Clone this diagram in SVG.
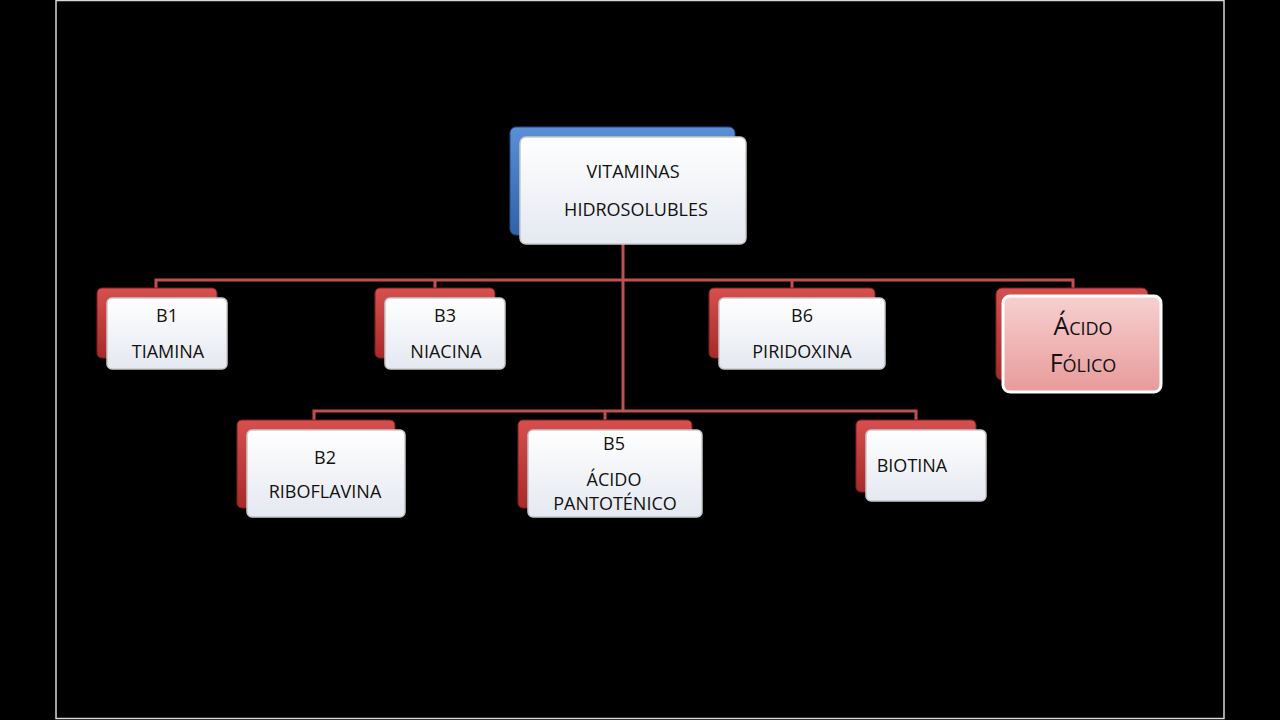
<svg xmlns="http://www.w3.org/2000/svg" width="1280" height="720" viewBox="0 0 1280 720">
<defs>
<linearGradient id="gw" x1="0" y1="0" x2="0" y2="1"><stop offset="0" stop-color="#ffffff"/><stop offset="1" stop-color="#e4e8f0"/></linearGradient>
<linearGradient id="gr" x1="0" y1="0" x2="0" y2="1"><stop offset="0" stop-color="#d74f4f"/><stop offset="1" stop-color="#a82a2a"/></linearGradient>
<linearGradient id="gb" x1="0" y1="0" x2="0" y2="1"><stop offset="0" stop-color="#5b8fd6"/><stop offset="1" stop-color="#2f62a8"/></linearGradient>
<linearGradient id="gp" x1="0" y1="0" x2="0" y2="1"><stop offset="0" stop-color="#f7d0d0"/><stop offset="1" stop-color="#e89a9a"/></linearGradient>
</defs>
<style>
.back{fill:url(#gr);stroke:#7a1e1e;stroke-width:1}
.front{fill:url(#gw);stroke:#c8c8c8;stroke-width:1.5}
.t{font-family:"Open Sans","Liberation Sans",sans-serif;font-size:18px;fill:#111;text-anchor:middle}
.c{fill:none;stroke:#c0504d;stroke-width:3}
</style>
<rect width="1280" height="720" fill="#000"/>
<rect x="56" y="0.5" width="1168" height="718" fill="none" stroke="#d8d8d8" stroke-width="1.5"/>
<g id="connectors">
<path class="c" d="M623 244V411M156 288V280H1073V288M435 280V288M792 280V288M314 420V411H916V420M605 411V420"/>
</g>
<g id="root">
<rect x="510" y="127" width="225" height="108" rx="6" fill="url(#gb)" stroke="#1f4a86"/>
<rect x="520" y="137" width="226" height="107" rx="6" class="front"/>
<text class="t" x="633" y="178">VITAMINAS</text>
<text class="t" x="636" y="216">HIDROSOLUBLES</text>
</g>
<g id="b1">
<rect x="97" y="288" width="120" height="70" rx="5" class="back"/>
<rect x="107" y="298" width="120" height="71" rx="5" class="front"/>
<text class="t" x="167" y="322">B1</text><text class="t" x="168" y="358">TIAMINA</text>
</g>
<g id="b3">
<rect x="375" y="288" width="120" height="70" rx="5" class="back"/>
<rect x="385" y="298" width="120" height="71" rx="5" class="front"/>
<text class="t" x="445" y="322">B3</text><text class="t" x="446" y="358">NIACINA</text>
</g>
<g id="b6">
<rect x="709" y="288" width="166" height="70" rx="5" class="back"/>
<rect x="719" y="298" width="166" height="71" rx="5" class="front"/>
<text class="t" x="802" y="322">B6</text><text class="t" x="802" y="358">PIRIDOXINA</text>
</g>
<g id="folico">
<rect x="996" y="288" width="152" height="92" rx="6" class="back"/>
<rect x="1003" y="296" width="158" height="96" rx="7" fill="url(#gp)" stroke="#fff" stroke-width="3"/>
<text class="t" x="1083" y="335" style="font-size:25px;font-variant:small-caps">Ácido</text>
<text class="t" x="1083" y="372" style="font-size:25px;font-variant:small-caps">Fólico</text>
</g>
<g id="b2">
<rect x="237" y="420" width="158" height="88" rx="5" class="back"/>
<rect x="247" y="430" width="158" height="87" rx="5" class="front"/>
<text class="t" x="325" y="464">B2</text><text class="t" x="325" y="498">RIBOFLAVINA</text>
</g>
<g id="b5">
<rect x="518" y="420" width="174" height="88" rx="5" class="back"/>
<rect x="528" y="430" width="174" height="87" rx="5" class="front"/>
<text class="t" x="614" y="450">B5</text><text class="t" x="614" y="486">ÁCIDO</text><text class="t" x="615" y="510">PANTOTÉNICO</text>
</g>
<g id="biotina">
<rect x="856" y="420" width="120" height="72" rx="5" class="back"/>
<rect x="866" y="430" width="120" height="71" rx="5" class="front"/>
<text class="t" x="912" y="472">BIOTINA</text>
</g>
</svg>
